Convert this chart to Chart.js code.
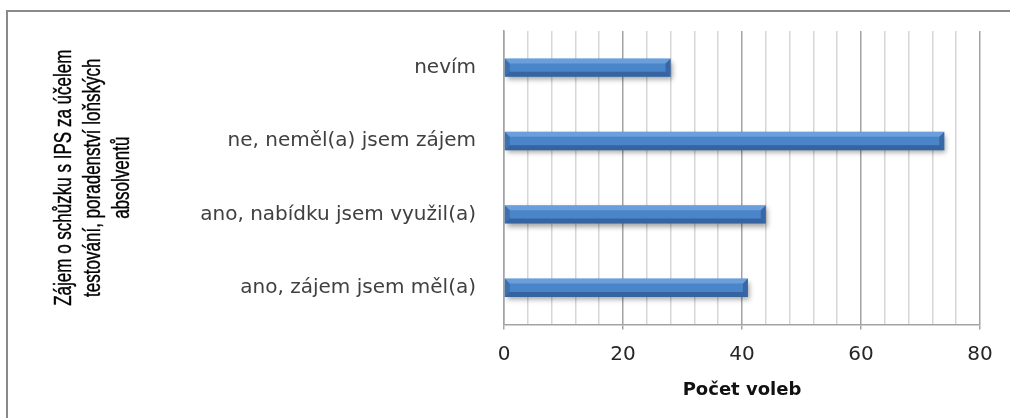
<!DOCTYPE html>
<html>
<head>
<meta charset="utf-8">
<script src="https://cdn.jsdelivr.net/npm/chart.js@4.4.1/dist/chart.umd.min.js"></script>
<style>
  html, body { margin: 0; padding: 0; background: #ffffff; }
  #wrap { width: 1010px; height: 418px; }
</style>
</head>
<body>
<div id="wrap"><canvas id="chart" width="1010" height="418"></canvas></div>
<script>
// Answers, listed top to bottom as they appear on the chart
const categories = [
  'nevím',
  'ne, neměl(a) jsem zájem',
  'ano, nabídku jsem využil(a)',
  'ano, zájem jsem měl(a)'
];
// Number of votes for each answer
const votes = [28, 74, 44, 41];
// Value axis
const axisMin = 0;
const axisMax = 80;
const gridStep = 4;
const labelStep = 20;
const valueTitle = 'Počet voleb';
const categoryTitle = [
  'Zájem o schůzku s IPS za účelem',
  'testování, poradenství loňských',
  'absolventů'
];

const PLOT_LEFT = 504;

// Thin grey frame around the chart object (top and left edges)
const framePlugin = {
  id: 'frame',
  beforeDraw(chart) {
    const ctx = chart.ctx;
    ctx.save();
    ctx.fillStyle = '#ffffff';
    ctx.fillRect(0, 0, chart.width, chart.height);
    ctx.strokeStyle = '#8a8a8a';
    ctx.lineWidth = 2;
    ctx.beginPath();
    ctx.moveTo(1010, 11);
    ctx.lineTo(7, 11);
    ctx.lineTo(7, 418);
    ctx.stroke();
    ctx.restore();
  }
};

// Soft drop shadow under the bars
const shadowPlugin = {
  id: 'barShadow',
  beforeDatasetDraw(chart) {
    const ctx = chart.ctx;
    ctx.save();
    ctx.shadowColor = 'rgba(0,0,0,0.35)';
    ctx.shadowBlur = 5;
    ctx.shadowOffsetX = 2;
    ctx.shadowOffsetY = 3;
  },
  afterDatasetDraw(chart) {
    chart.ctx.restore();
  }
};

// Bevelled end caps and top highlight on each bar, placed from the bar elements
const bevelPlugin = {
  id: 'bevel',
  afterDatasetsDraw(chart) {
    const ctx = chart.ctx;
    const meta = chart.getDatasetMeta(0);
    ctx.save();
    meta.data.forEach(bar => {
      const p = bar.getProps(['x', 'y', 'base', 'height'], true);
      const top = p.y - p.height / 2;
      const bot = p.y + p.height / 2;
      const left = Math.min(p.base, p.x);
      const right = Math.max(p.base, p.x);
      const b = 5;
      ctx.fillStyle = 'rgba(20,50,100,0.35)';
      ctx.beginPath();
      ctx.moveTo(right, top);
      ctx.lineTo(right, bot);
      ctx.lineTo(right - b, bot - b);
      ctx.lineTo(right - b, top + b);
      ctx.closePath();
      ctx.fill();
      ctx.fillStyle = 'rgba(20,50,100,0.25)';
      ctx.beginPath();
      ctx.moveTo(left, top);
      ctx.lineTo(left, bot);
      ctx.lineTo(left + b, bot - b);
      ctx.lineTo(left + b, top + b);
      ctx.closePath();
      ctx.fill();
      ctx.fillStyle = 'rgba(170,210,255,0.35)';
      ctx.beginPath();
      ctx.moveTo(left, top);
      ctx.lineTo(right, top);
      ctx.lineTo(right - b, top + b);
      ctx.lineTo(left + b, top + b);
      ctx.closePath();
      ctx.fill();
      ctx.fillStyle = 'rgba(15,40,85,0.35)';
      ctx.beginPath();
      ctx.moveTo(left, bot);
      ctx.lineTo(right, bot);
      ctx.lineTo(right - b, bot - b);
      ctx.lineTo(left + b, bot - b);
      ctx.closePath();
      ctx.fill();
    });
    ctx.restore();
  }
};

// Category axis title: three rotated lines in a condensed face
const categoryTitlePlugin = {
  id: 'categoryTitle',
  afterDraw(chart) {
    const ctx = chart.ctx;
    const area = chart.chartArea;
    const cy = (area.top + area.bottom) / 2;
    const firstX = 65;
    const lineGap = 29;
    ctx.save();
    ctx.fillStyle = '#000000';
    ctx.strokeStyle = '#000000';
    ctx.lineWidth = 0.4;
    ctx.font = '23px "Liberation Sans", Arial, sans-serif';
    ctx.textAlign = 'center';
    ctx.textBaseline = 'middle';
    categoryTitle.forEach((line, i) => {
      ctx.save();
      ctx.translate(firstX + i * lineGap, cy);
      ctx.rotate(-Math.PI / 2);
      ctx.scale(0.74, 1);
      ctx.fillText(line, 0, 0);
      ctx.strokeText(line, 0, 0);
      ctx.restore();
    });
    ctx.restore();
  }
};

function barGradient(context) {
  const chart = context.chart;
  const el = context.element;
  if (!el || !chart.chartArea) return '#4a84c9';
  const { y, height } = el.getProps(['y', 'height'], true);
  if (!isFinite(y) || !height) return '#4a84c9';
  const g = chart.ctx.createLinearGradient(0, y - height / 2, 0, y + height / 2);
  g.addColorStop(0, '#4f86c6');
  g.addColorStop(0.15, '#80b6ef');
  g.addColorStop(0.35, '#5b97dc');
  g.addColorStop(0.7, '#4a82c6');
  g.addColorStop(1, '#335f9c');
  return g;
}

const ctx = document.getElementById('chart').getContext('2d');
new Chart(ctx, {
  type: 'bar',
  data: {
    labels: categories,
    datasets: [{
      data: votes,
      backgroundColor: barGradient,
      borderWidth: 0,
      barPercentage: 0.25,
      categoryPercentage: 1.0
    }]
  },
  options: {
    indexAxis: 'y',
    responsive: false,
    animation: false,
    events: [],
    layout: { padding: { top: 31, right: 30, bottom: 17, left: 10 } },
    plugins: {
      legend: { display: false },
      tooltip: { enabled: false }
    },
    scales: {
      x: {
        min: axisMin,
        max: axisMax,
        ticks: {
          stepSize: gridStep,
          autoSkip: false,
          maxRotation: 0,
          padding: 13,
          color: '#262626',
          font: { family: '"DejaVu Sans", sans-serif', size: 20 },
          callback: v => (v % labelStep === 0 ? String(v) : '')
        },
        grid: {
          drawTicks: true,
          tickLength: 5,
          lineWidth: 1.5,
          color: c => (c.tick && c.tick.value % labelStep === 0 ? '#a3a3a3' : '#d6d6d6'),
          tickColor: c => (c.tick && c.tick.value % labelStep === 0 ? '#a3a3a3' : 'rgba(0,0,0,0)')
        },
        border: { display: true, color: '#a3a3a3', width: 1.5 },
        title: {
          display: true,
          text: valueTitle,
          color: '#111111',
          font: { family: '"DejaVu Sans", sans-serif', size: 18, weight: 'bold' },
          padding: { top: 0, bottom: 0 }
        }
      },
      y: {
        afterFit(scale) {
          scale.width = PLOT_LEFT - 10;
          scale.paddingTop = 0;
          scale.paddingBottom = 0;
        },
        ticks: {
          padding: 28,
          color: '#404040',
          font: { family: '"DejaVu Sans", sans-serif', size: 20 }
        },
        grid: { display: false, drawTicks: false },
        border: { display: true, color: '#a3a3a3', width: 1.5 },
        title: { display: false }
      }
    }
  },
  plugins: [framePlugin, shadowPlugin, bevelPlugin, categoryTitlePlugin]
});
</script>
</body>
</html>
